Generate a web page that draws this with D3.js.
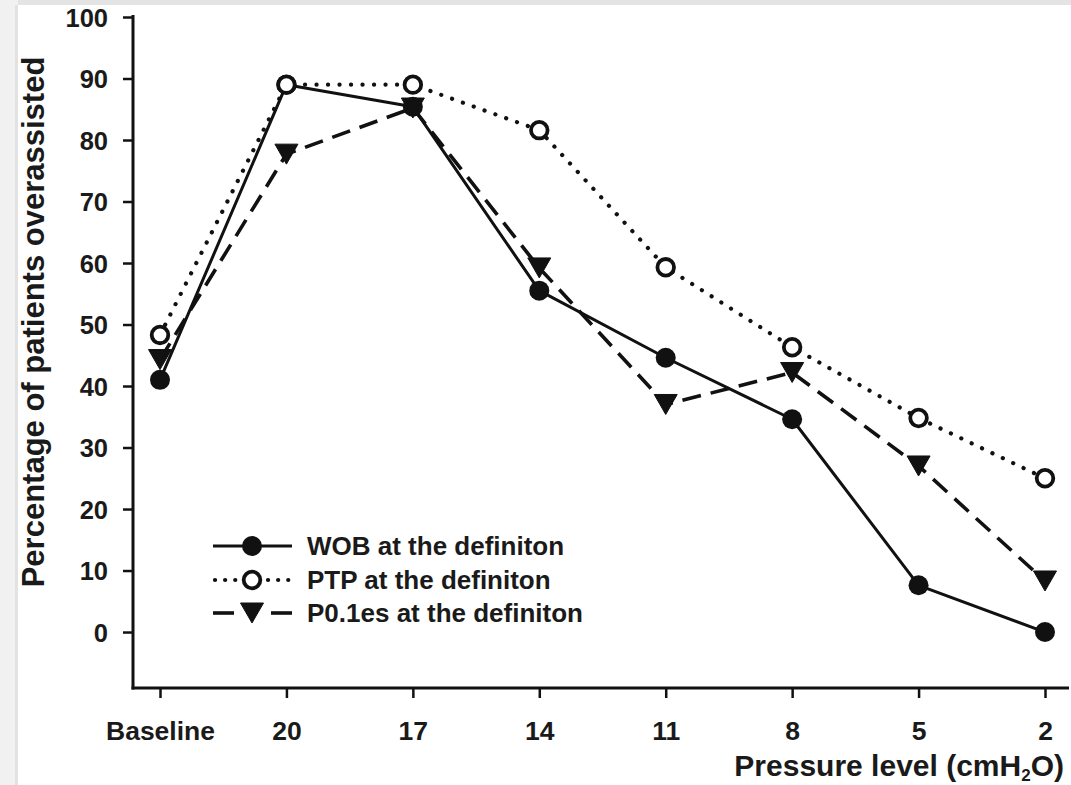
<!DOCTYPE html>
<html>
<head>
<meta charset="utf-8">
<script src="https://cdn.jsdelivr.net/npm/d3@7"></script>
<style>
  html, body { margin: 0; padding: 0; background: #fff; }
  svg { display: block; }
  text { font-family: "Liberation Sans", Arial, sans-serif; font-weight: bold; fill: #1a1a1a; }
</style>
</head>
<body>
<svg id="chart" width="1071" height="785"></svg>
<script>
// Pressure levels (cmH2O) on the x axis
const levels = ["Baseline", "20", "17", "14", "11", "8", "5", "2"];

// Percentage of patients overassisted, per definition
const wob   = [41, 89, 85.4, 55.5, 44.6, 34.6, 7.6, 0];
const ptp   = [48.3, 89, 89, 81.6, 59.3, 46.3, 34.8, 25];
const p01es = [44.3, 77.7, 85.2, 59.2, 37, 42.2, 27, 8.3];

const yTicks = [0, 10, 20, 30, 40, 50, 60, 70, 80, 90, 100];

const seriesNames = ["WOB at the definiton", "PTP at the definiton", "P0.1es at the definiton"];

const svg = d3.select("#chart");
const ink = "#111";
const FONT = "Liberation Sans, Arial, sans-serif";

const x = d3.scalePoint().domain(levels).range([160, 1045]);
const y = d3.scaleLinear().domain([-9.1, 100]).range([688, 17]);

// Y axis
const yAxis = svg.append("g").attr("transform", "translate(133,0)")
  .call(d3.axisLeft(y).tickValues(yTicks).tickSize(10).tickPadding(15).tickSizeOuter(0));
yAxis.select(".domain").remove();
yAxis.selectAll(".tick line").attr("stroke", ink).attr("stroke-width", 2.5);
yAxis.selectAll(".tick text").attr("font-size", 25.5).attr("font-family", FONT)
  .attr("font-weight", "bold").attr("fill", "#1a1a1a").attr("dy", "0.36em");
svg.append("line").attr("x1", 133).attr("x2", 133).attr("y1", y(100) - 2).attr("y2", 689.5)
  .attr("stroke", ink).attr("stroke-width", 3);

// X axis
const xAxis = svg.append("g").attr("transform", "translate(0,688)")
  .call(d3.axisBottom(x).tickSize(10).tickPadding(22).tickSizeOuter(0));
xAxis.select(".domain").remove();
xAxis.selectAll(".tick line").attr("stroke", ink).attr("stroke-width", 2.5);
xAxis.selectAll(".tick text").attr("font-size", 26.5).attr("font-family", FONT)
  .attr("font-weight", "bold").attr("fill", "#1a1a1a").attr("dy", null).attr("y", 52);
svg.append("line").attr("x1", 131.5).attr("x2", 1069).attr("y1", 688).attr("y2", 688)
  .attr("stroke", ink).attr("stroke-width", 3);

// Axis titles
svg.append("text")
  .attr("transform", "translate(44,322) rotate(-90)")
  .attr("text-anchor", "middle").attr("font-size", 31)
  .text("Percentage of patients overassisted");

const xt = svg.append("text").attr("x", 1064).attr("y", 776).attr("text-anchor", "end").attr("font-size", 30);
xt.append("tspan").text("Pressure level (cmH");
xt.append("tspan").attr("font-size", 17).attr("dy", 5).text("2");
xt.append("tspan").attr("dy", -5).text("O)");

// Series styles
const styles = [
  { data: wob,   dash: null,      width: 3,   cap: "butt",  marker: "circle" },
  { data: ptp,   dash: "0.1 11.4", width: 4.2, cap: "round", marker: "open" },
  { data: p01es, dash: "19 10",   width: 3.6, cap: "butt",  marker: "triangle" }
];

const line = d3.line().x((d, i) => x(levels[i])).y(d => y(d));

function drawMarker(g, kind, cx, cy) {
  if (kind === "circle") {
    g.append("circle").attr("cx", cx).attr("cy", cy).attr("r", 10).attr("fill", ink);
  } else if (kind === "open") {
    g.append("circle").attr("cx", cx).attr("cy", cy).attr("r", 8.3)
      .attr("fill", "#fff").attr("stroke", ink).attr("stroke-width", 3.8);
  } else {
    const w = 11.5, h = 10;
    g.append("path")
      .attr("d", `M${cx - w},${cy - h}L${cx + w},${cy - h}L${cx},${cy + h}Z`)
      .attr("fill", ink).attr("stroke", ink).attr("stroke-width", 1).attr("stroke-linejoin", "round");
  }
}

// lines first, then markers on top (open circles last)
const linesG = svg.append("g");
styles.forEach(s => {
  linesG.append("path").datum(s.data).attr("d", line)
    .attr("fill", "none").attr("stroke", ink).attr("stroke-width", s.width)
    .attr("stroke-linecap", s.cap).attr("stroke-linejoin", "round")
    .attr("stroke-dasharray", s.dash);
});
const markG = svg.append("g");
[0, 2, 1].forEach(k => {
  const s = styles[k];
  s.data.forEach((v, i) => drawMarker(markG, s.marker, x(levels[i]), y(v)));
});

// Legend
const legRows = [546, 580, 613];
const legG = svg.append("g");
styles.forEach((s, k) => {
  const yy = legRows[k];
  if (s.marker === "circle") {
    legG.append("line").attr("x1", 213).attr("x2", 292).attr("y1", yy).attr("y2", yy)
      .attr("stroke", ink).attr("stroke-width", 3);
  } else if (s.marker === "open") {
    legG.append("line").attr("x1", 215).attr("x2", 238).attr("y1", yy).attr("y2", yy)
      .attr("stroke", ink).attr("stroke-width", 4.2).attr("stroke-linecap", "round").attr("stroke-dasharray", "0.1 10");
    legG.append("line").attr("x1", 268).attr("x2", 291).attr("y1", yy).attr("y2", yy)
      .attr("stroke", ink).attr("stroke-width", 4.2).attr("stroke-linecap", "round").attr("stroke-dasharray", "0.1 10");
  } else {
    legG.append("line").attr("x1", 213).attr("x2", 234).attr("y1", yy).attr("y2", yy)
      .attr("stroke", ink).attr("stroke-width", 3.6);
    legG.append("line").attr("x1", 271).attr("x2", 292).attr("y1", yy).attr("y2", yy)
      .attr("stroke", ink).attr("stroke-width", 3.6);
  }
  drawMarker(legG, s.marker, 252, yy);
  legG.append("text").attr("x", 307).attr("y", yy + 8.5).attr("font-size", 26).text(seriesNames[k]);
});

// faint grey frame along the top and left edges, above everything
svg.append("rect").attr("x", 0).attr("y", 0).attr("width", 1071).attr("height", 5).attr("fill", "#e4e4e4");
svg.append("rect").attr("x", 0).attr("y", 0).attr("width", 18).attr("height", 785).attr("fill", "#f1f1f1");
svg.append("rect").attr("x", 15).attr("y", 5).attr("width", 3).attr("height", 780).attr("fill", "#e2e2e2");
</script>
</body>
</html>
